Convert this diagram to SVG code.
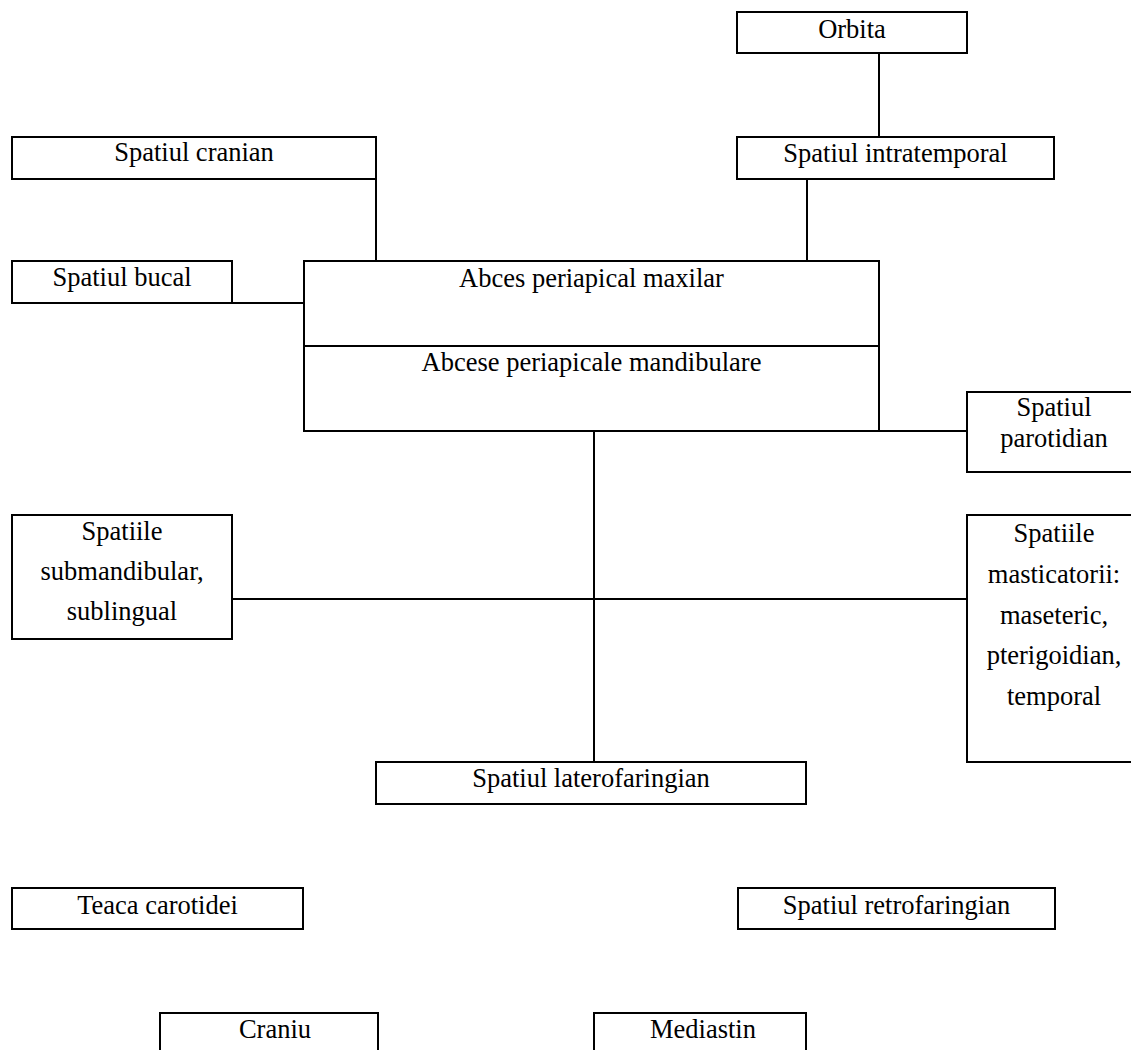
<svg xmlns="http://www.w3.org/2000/svg" width="1131" height="1050" viewBox="0 0 1131 1050">
  <style>
    .box { fill: #ffffff; stroke: #000000; stroke-width: 2; }
    .open { fill: none; stroke: #000000; stroke-width: 2; }
    .link { fill: none; stroke: #000000; stroke-width: 2; }
    text { font-family: "Liberation Serif", "Times New Roman", serif; font-size: 26.5px; fill: #000000; text-anchor: middle; }
  </style>
  <rect x="0" y="0" width="1131" height="1050" fill="#ffffff"/>

  <!-- connectors -->
  <g id="connectors">
    <line class="link" x1="879" y1="53" x2="879" y2="137"/>
    <line class="link" x1="376" y1="179" x2="376" y2="261"/>
    <line class="link" x1="807" y1="179" x2="807" y2="261"/>
    <line class="link" x1="232" y1="303" x2="304" y2="303"/>
    <line class="link" x1="879" y1="431" x2="967" y2="431"/>
    <line class="link" x1="594" y1="431" x2="594" y2="762"/>
    <line class="link" x1="232" y1="599" x2="967" y2="599"/>
  </g>

  <g id="orbita">
    <rect class="box" x="737" y="12" width="230" height="41"/>
    <text x="852" y="38">Orbita</text>
  </g>

  <g id="spatiul-intratemporal">
    <rect class="box" x="737" y="137" width="317" height="42"/>
    <text x="895.5" y="162">Spatiul intratemporal</text>
  </g>

  <g id="spatiul-cranian">
    <rect class="box" x="12" y="137" width="364" height="42"/>
    <text x="194" y="161">Spatiul cranian</text>
  </g>

  <g id="spatiul-bucal">
    <rect class="box" x="12" y="261" width="220" height="42"/>
    <text x="122" y="286">Spatiul bucal</text>
  </g>

  <g id="abces-periapical">
    <rect class="box" x="304" y="261" width="575" height="170"/>
    <line class="link" x1="304" y1="346" x2="879" y2="346"/>
    <text x="591.5" y="287">Abces periapical maxilar</text>
    <text x="591.5" y="371">Abcese periapicale mandibulare</text>
  </g>

  <g id="spatiul-parotidian">
    <rect class="box" x="967" y="392" width="175" height="80"/>
    <text x="1054" y="416">Spatiul</text>
    <text x="1054" y="447">parotidian</text>
  </g>

  <g id="spatiile-submandibular">
    <rect class="box" x="12" y="515" width="220" height="124"/>
    <text x="122" y="540">Spatiile</text>
    <text x="122" y="580">submandibular,</text>
    <text x="122" y="620">sublingual</text>
  </g>

  <g id="spatiile-masticatorii">
    <rect class="box" x="967" y="515" width="175" height="247"/>
    <text x="1054" y="542">Spatiile</text>
    <text x="1054" y="583">masticatorii:</text>
    <text x="1054" y="624">maseteric,</text>
    <text x="1054" y="664">pterigoidian,</text>
    <text x="1054" y="705">temporal</text>
  </g>

  <g id="spatiul-laterofaringian">
    <rect class="box" x="376" y="762" width="430" height="42"/>
    <text x="591" y="787">Spatiul laterofaringian</text>
  </g>

  <g id="teaca-carotidei">
    <rect class="box" x="12" y="888" width="291" height="41"/>
    <text x="157.5" y="914">Teaca carotidei</text>
  </g>

  <g id="spatiul-retrofaringian">
    <rect class="box" x="738" y="888" width="317" height="41"/>
    <text x="896.5" y="914">Spatiul retrofaringian</text>
  </g>

  <g id="craniu">
    <path class="open" d="M160,1050 V1013 H378 V1050"/>
    <text x="275" y="1038">Craniu</text>
  </g>

  <g id="mediastin">
    <path class="open" d="M594,1050 V1013 H806 V1050"/>
    <text x="703" y="1038">Mediastin</text>
  </g>
</svg>
